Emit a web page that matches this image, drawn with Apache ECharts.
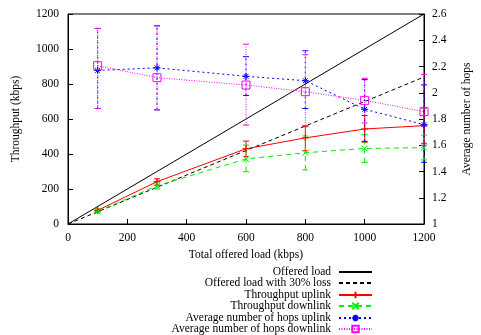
<!DOCTYPE html>
<html>
<head>
<meta charset="utf-8">
<script src="https://cdn.jsdelivr.net/npm/echarts@6/dist/echarts.min.js"></script>
<style>
html,body{margin:0;padding:0;background:#fff;}
#c{width:481px;height:335px;}
</style>
</head>
<body>
<div id="c"></div>
<script>
// ---- data ----
const loadX = [100, 300, 600, 800, 1000, 1200];
const offeredX = [0, 1200];
const offered = [0, 1200];
const offeredLoss = [0, 840];

const thrUp = [78, 242, 430, 492, 543, 562];
const thrUpLo = [70, 222, 385, 419, 467, 461];
const thrUpHi = [86, 258, 474, 556, 620, 663];

const thrDown = [72, 218, 372, 407, 432, 436];
const thrDownLo = [64, 200, 299, 309, 352, 366];
const thrDownHi = [80, 240, 451, 503, 512, 508];

const hopsUp = [2.17, 2.19, 2.125, 2.092, 1.874, 1.757];
const hopsUpLo = [1.88, 1.87, 1.98, 1.88, 1.63, 1.47];
const hopsUpHi = [2.49, 2.51, 2.275, 2.32, 2.10, 2.06];

const hopsDown = [2.206, 2.115, 2.059, 2.008, 1.942, 1.856];
const hopsDownLo = [1.88, 1.87, 1.754, 1.75, 1.77, 1.60];
const hopsDownHi = [2.49, 2.51, 2.37, 2.29, 2.11, 2.14];

const names = ['Offered load', 'Offered load with 30% loss', 'Throughput uplink',
  'Throughput downlink', 'Average number of hops uplink', 'Average number of hops downlink'];

// ---- build ----
const FONT = 'Liberation Serif';
const FS = 11.5;
const pair = (xs, ys) => xs.map((v, i) => [v, ys[i]]);
const trip = (xs, lo, hi) => xs.map((v, i) => [v, lo[i], hi[i]]);

function errSeries(name, data, color, dash, yIdx) {
  return {
    type: 'custom', name: name, yAxisIndex: yIdx, z: 3,
    data: data,
    renderItem: function (params, api) {
      const x = api.value(0);
      const a = api.coord([x, api.value(1)]);
      const b = api.coord([x, api.value(2)]);
      const cw = 3;
      const st = { stroke: color, lineWidth: 1, lineDash: dash };
      return {
        type: 'group',
        children: [
          { type: 'line', shape: { x1: a[0], y1: a[1], x2: b[0], y2: b[1] }, style: st },
          { type: 'line', shape: { x1: a[0] - cw, y1: a[1], x2: a[0] + cw, y2: a[1] }, style: { stroke: color, lineWidth: 1 } },
          { type: 'line', shape: { x1: b[0] - cw, y1: b[1], x2: b[0] + cw, y2: b[1] }, style: { stroke: color, lineWidth: 1 } }
        ]
      };
    }
  };
}

const plusSym = 'path://M5,0L5,10M0,5L10,5';
const crossSym = 'path://M0,0L10,10M10,0L0,10';
const starSym = 'path://M5,0L5,10M0,5L10,5M1.5,1.5L8.5,8.5M8.5,1.5L1.5,8.5';
const sqSym = 'path://M0,0L10,0L10,10L0,10Z';

const legendTops = [266, 277, 289, 300, 312, 323];
const legends = names.map((n, i) => ({
  data: [i < 2 ? { name: n, itemStyle: { opacity: 0 } } : n],
  right: 108, top: legendTops[i], orient: 'horizontal', align: 'right',
  padding: 0, itemWidth: 33, itemHeight: 8, selectedMode: false,
  textStyle: { fontFamily: FONT, fontSize: FS, color: '#000', padding: [0, 3, 0, 0] }
}));

const axisLabel = { fontFamily: FONT, fontSize: FS, color: '#000' };
const nameStyle = { fontFamily: FONT, fontSize: FS, color: '#000' };

const option = {
  backgroundColor: '#fff',
  animation: false,
  legend: legends,
  grid: { left: 68, right: 52, top: 14, bottom: 111, show: true, borderColor: '#000', borderWidth: 1 },
  xAxis: {
    type: 'value', min: 0, max: 1200, interval: 200,
    name: 'Total offered load (kbps)', nameLocation: 'middle', nameGap: 23, nameTextStyle: nameStyle,
    axisLine: { lineStyle: { color: '#000' } },
    axisTick: { inside: true, length: 5, lineStyle: { color: '#000' } },
    axisLabel: Object.assign({ margin: 8, formatter: v => String(v) }, axisLabel),
    splitLine: { show: false }
  },
  yAxis: [{
    type: 'value', min: 0, max: 1200, interval: 200,
    name: 'Throughput (kbps)', nameLocation: 'middle', nameGap: 46, nameRotate: 90, nameTextStyle: nameStyle,
    axisLine: { show: true, lineStyle: { color: '#000' } },
    axisTick: { show: true, inside: true, length: 5, lineStyle: { color: '#000' } },
    axisLabel: Object.assign({ margin: 9, formatter: v => String(v) }, axisLabel),
    splitLine: { show: false }
  }, {
    type: 'value', min: 1, max: 2.6, interval: 0.2, position: 'right',
    name: 'Average number of hops', nameLocation: 'middle', nameGap: 37, nameRotate: 90, nameTextStyle: nameStyle,
    axisLine: { show: true, lineStyle: { color: '#000' } },
    axisTick: { show: true, inside: true, length: 5, lineStyle: { color: '#000' } },
    axisLabel: Object.assign({ margin: 8, formatter: v => String(+v.toFixed(1)) }, axisLabel),
    splitLine: { show: false }
  }],
  series: [
    { type: 'line', name: names[0], data: pair(offeredX, offered), showSymbol: false, symbol: 'none',
      lineStyle: { color: '#000', width: 1 }, itemStyle: { color: '#000' }, z: 2 },
    { type: 'line', name: names[1], data: pair(offeredX, offeredLoss), showSymbol: false, symbol: 'none',
      lineStyle: { color: '#000', width: 1, type: [4, 3] }, itemStyle: { color: '#000' }, z: 2 },
    { type: 'line', name: names[2], data: pair(loadX, thrUp), symbol: plusSym, symbolSize: 7,
      lineStyle: { color: '#ff0000', width: 1 }, itemStyle: { color: '#ff0000', borderColor: '#ff0000', borderWidth: 1 }, z: 4 },
    { type: 'line', name: names[3], data: pair(loadX, thrDown), symbol: crossSym, symbolSize: 6,
      lineStyle: { color: '#00ee00', width: 1, type: [5, 4] }, itemStyle: { color: '#00ee00', borderColor: '#00ee00', borderWidth: 1 }, z: 4 },
    { type: 'line', name: names[4], data: pair(loadX, hopsUp), yAxisIndex: 1, symbol: starSym, symbolSize: 7,
      lineStyle: { color: '#0000ff', width: 1, type: [2, 3] }, itemStyle: { color: '#0000ff', borderColor: '#0000ff', borderWidth: 1 }, z: 4 },
    { type: 'line', name: names[5], data: pair(loadX, hopsDown), yAxisIndex: 1, symbol: sqSym, symbolSize: 8,
      lineStyle: { color: '#ff00ff', width: 1, type: [1, 1.5] }, itemStyle: { color: 'rgba(0,0,0,0)', borderColor: '#ff00ff', borderWidth: 1 }, z: 4 },
    errSeries('eUp', trip(loadX, thrUpLo, thrUpHi), '#ff0000', null, 0),
    errSeries('eDown', trip(loadX, thrDownLo, thrDownHi), '#00ee00', [5, 4], 0),
    errSeries('eHopsUp', trip(loadX, hopsUpLo, hopsUpHi), '#0000ff', [2, 3], 1),
    errSeries('eHopsDown', trip(loadX, hopsDownLo, hopsDownHi), '#ff00ff', [1, 1.5], 1)
  ]
};

const chart = echarts.init(document.getElementById('c'), null, { renderer: 'canvas' });
chart.setOption(option);
</script>
</body>
</html>
